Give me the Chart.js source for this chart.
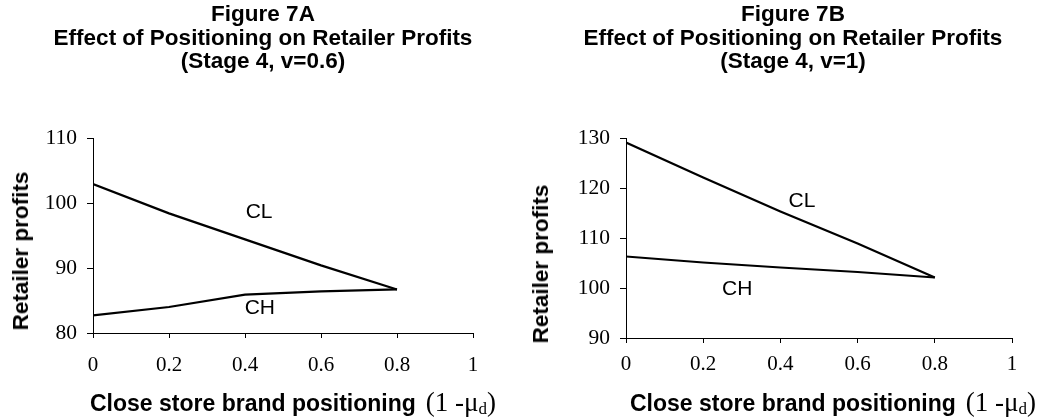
<!DOCTYPE html>
<html>
<head>
<meta charset="utf-8">
<script src="https://cdn.jsdelivr.net/npm/chart.js@4"></script>
<style>
  html, body { margin: 0; padding: 0; background: #fff; }
  #page { position: relative; width: 1041px; height: 420px; overflow: hidden; }
  .cv { position: absolute; top: 0; }
  .title { position: absolute; top: 2px; width: 520px; text-align: center; font: bold 22.5px "Liberation Sans", Arial, sans-serif; line-height: 23.5px; color: #000; }
  .ytitle { position: absolute; font: bold 22.5px "Liberation Sans", Arial, sans-serif; color: #000; white-space: nowrap; transform: translate(-50%, -50%) rotate(-90deg); }
  .xtitle { position: absolute; top: 387px; font: bold 23px "Liberation Sans", Arial, sans-serif; color: #000; white-space: nowrap; }
  .xtitle .mu { font: 27px "Liberation Serif", "Times New Roman", serif; margin-left: 10px; }
  .xtitle sub { font-size: 17px; vertical-align: -3px; }
</style>
</head>
<body>
<div id="page">
  <canvas id="chartA" class="cv" style="left:0px" width="520" height="420"></canvas>
  <canvas id="chartB" class="cv" style="left:520px" width="521" height="420"></canvas>

  <div class="title" style="left:3px">Figure 7A<br>Effect of Positioning on Retailer Profits<br>(Stage 4, v=0.6)</div>
  <div class="title" style="left:533px">Figure 7B<br>Effect of Positioning on Retailer Profits<br>(Stage 4, v=1)</div>

  <div class="ytitle" style="left:21px; top:251px">Retailer profits</div>
  <div class="ytitle" style="left:541px; top:264px">Retailer profits</div>

  <div class="xtitle" style="left:90px">Close store brand positioning<span class="mu">(1 -μ<sub>d</sub>)</span></div>
  <div class="xtitle" style="left:630px">Close store brand positioning<span class="mu">(1 -μ<sub>d</sub>)</span></div>
</div>

<script>
// ---- data ----
const positioning = [0, 0.2, 0.4, 0.6, 0.8];

const clA = [102.9, 98.4, 94.4, 90.4, 86.7];
const chA = [82.7, 84.0, 85.9, 86.4, 86.7];

const clB = [129.1, 122.1, 115.3, 108.9, 102.1];
const chB = [106.3, 105.1, 104.1, 103.2, 102.1];

const xTicks = [0, 0.2, 0.4, 0.6, 0.8, 1];
const yTicksA = [80, 90, 100, 110];
const yTicksB = [90, 100, 110, 120, 130];

// curve labels, in data units
const labelsA = [{ text: 'CL', x: 0.437, y: 98.6 }, { text: 'CH', x: 0.439, y: 83.8 }];
const labelsB = [{ text: 'CL', x: 0.456, y: 117.4 }, { text: 'CH', x: 0.288, y: 99.8 }];

const SANS = '"Liberation Sans", Arial, sans-serif';
const SERIF = '"Liberation Serif", "Times New Roman", serif';

function toPoints(xs, ys) {
    return xs.map((x, i) => ({ x: x, y: ys[i] }));
}

// draws the CL / CH text next to the curves
const curveLabels = {
    id: 'curveLabels',
    afterDatasetsDraw(chart, args, opts) {
        const ctx = chart.ctx;
        const xs = chart.scales.x, ys = chart.scales.y;
        ctx.save();
        ctx.fillStyle = '#000';
        ctx.font = '21px ' + SANS;
        ctx.textAlign = 'center';
        ctx.textBaseline = 'middle';
        opts.items.forEach(l => {
            ctx.fillText(l.text, xs.getPixelForValue(l.x), ys.getPixelForValue(l.y));
        });
        ctx.restore();
    }
};

function makeChart(id, cl, ch, yTicks, labels, pad, yWidth, xTickPad) {
    const line = (data) => ({
        data: toPoints(positioning, data),
        borderColor: '#000',
        borderWidth: 2.2,
        pointRadius: 0,
        tension: 0,
        fill: false
    });
    return new Chart(document.getElementById(id).getContext('2d'), {
        type: 'line',
        data: { datasets: [line(cl), line(ch)] },
        plugins: [curveLabels],
        options: {
            responsive: false,
            animation: false,
            layout: { padding: pad },
            plugins: {
                legend: { display: false },
                tooltip: { enabled: false },
                curveLabels: { items: labels }
            },
            scales: {
                x: {
                    type: 'linear',
                    min: 0, max: 1,
                    afterBuildTicks: (s) => { s.ticks = xTicks.map(v => ({ value: v })); },
                    afterFit: (s) => { s.height = 50; },
                    border: { color: '#000', width: 1 },
                    grid: { drawOnChartArea: false, color: '#000', tickLength: 5 },
                    ticks: {
                        color: '#000',
                        font: { family: SERIF, size: 21 },
                        padding: xTickPad,
                        maxRotation: 0,
                        callback: (v) => String(Number(v.toFixed(1)))
                    }
                },
                y: {
                    min: yTicks[0], max: yTicks[yTicks.length - 1],
                    afterBuildTicks: (s) => { s.ticks = yTicks.map(v => ({ value: v })); },
                    afterFit: (s) => { s.width = yWidth; },
                    border: { color: '#000', width: 1 },
                    grid: { drawOnChartArea: false, color: '#000', tickLength: 6 },
                    ticks: {
                        color: '#000',
                        font: { family: SERIF, size: 21.5 },
                        padding: 10
                    }
                }
            }
        }
    });
}

const chartA = makeChart('chartA', clA, chA, yTicksA, labelsA,
    { left: 30, right: 47, top: 138, bottom: 37 }, 63, 15);
const chartB = makeChart('chartB', clB, chB, yTicksB, labelsB,
    { left: 40, right: 29, top: 138, bottom: 32 }, 66, 9);
</script>
</body>
</html>
